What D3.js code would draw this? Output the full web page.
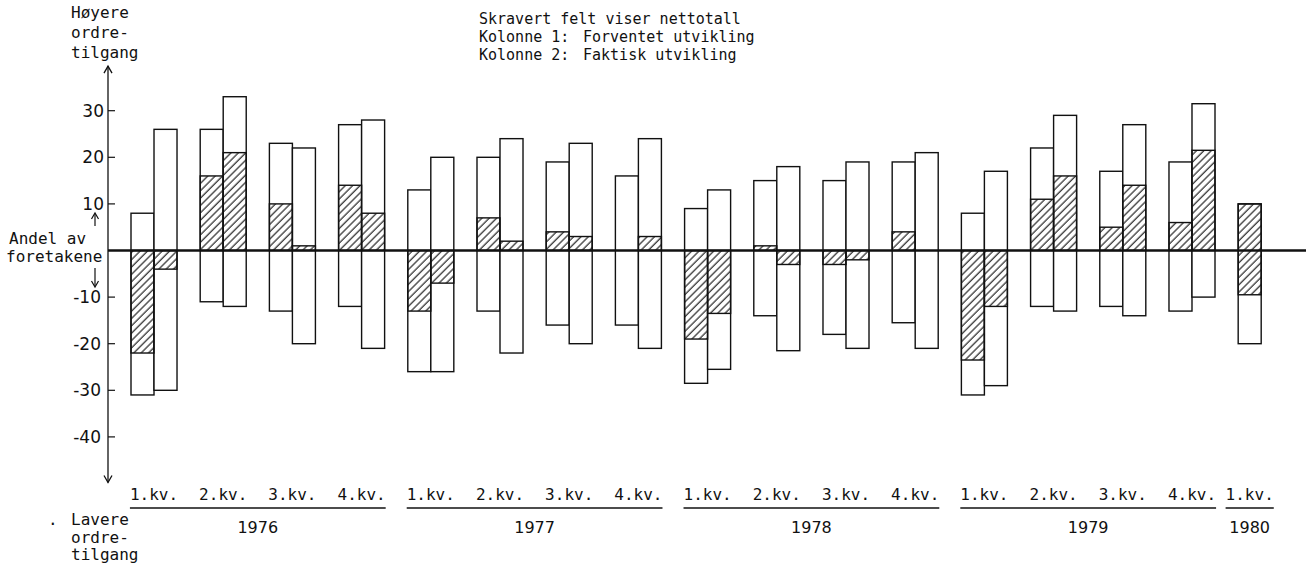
<!DOCTYPE html>
<html>
<head>
<meta charset="utf-8">
<script src="https://cdn.jsdelivr.net/npm/d3@7"></script>
<style>
    body { margin: 0; background: #fff; }
    svg { display: block; }
    .mono { font-family: 'DejaVu Sans Mono', monospace; fill: #111; }
    .num { font-family: 'DejaVu Sans', sans-serif; fill: #111; }
</style>
</head>
<body>
<div class="chart"></div>
<script>
const width = 1306,
      height = 566;

// kategorier
const years = ['1976', '1977', '1978', '1979', '1980'];
const kvartal = ['1.kv.', '2.kv.', '3.kv.', '4.kv.'];
const perioder = years.flatMap(function(y) {
    return y === '1980' ? [y + '-1'] : [1, 2, 3, 4].map(function(k) { return y + '-' + k; });
});

// Kolonne 1: Forventet utvikling (andel høyere, andel lavere, nettotall)
const forventetOpp   = [8, 26, 23, 27, 13, 20, 19, 16, 9, 15, 15, 19, 8, 22, 17, 19, 10];
const forventetNed   = [-31, -11, -13, -12, -26, -13, -16, -16, -28.5, -14, -18, -15.5, -31, -12, -12, -13, -20];
const forventetNetto = [-22, 16, 10, 14, -13, 7, 4, 0, -19, 1, -3, 4, -23.5, 11, 5, 6, -9.5];
// skravert felt over null (bare 1980)
const forventetSkravertTopp = [0, 0, 0, 0, 0, 0, 0, 0, 0, 0, 0, 0, 0, 0, 0, 0, 10];

// Kolonne 2: Faktisk utvikling
const faktiskOpp   = [26, 33, 22, 28, 20, 24, 23, 24, 13, 18, 19, 21, 17, 29, 27, 31.5, null];
const faktiskNed   = [-30, -12, -20, -21, -26, -22, -20, -21, -25.5, -21.5, -21, -21, -29, -13, -14, -10, null];
const faktiskNetto = [-4, 21, 1, 8, -7, 2, 3, 3, -13.5, -3, -2, 0, -12, 16, 14, 21.5, null];

const yTicks = [-40, -30, -20, -10, 10, 20, 30];

const svg = d3.select('.chart').append('svg')
    .attr('width', width)
    .attr('height', height);

const defs = svg.append('defs');
defs.append('pattern')
    .attr('id', 'hatch')
    .attr('patternUnits', 'userSpaceOnUse')
    .attr('width', 5.2)
    .attr('height', 5.2)
    .attr('patternTransform', 'rotate(45)')
    .append('line')
    .attr('x1', 1).attr('y1', 0)
    .attr('x2', 1).attr('y2', 5.2)
    .attr('stroke', '#111')
    .attr('stroke-width', 1.1);

const x = d3.scaleBand()
    .domain(perioder)
    .range([131, 1284.2])
    .paddingInner(0.335)
    .paddingOuter(0);

const xInner = d3.scaleBand()
    .domain(['forventet', 'faktisk'])
    .range([0, x.bandwidth()]);

const y = d3.scaleLinear()
    .domain([-50, 40])
    .range([483.5, 64.1]);

// build bar records
let bars = [];
perioder.forEach(function(p, i) {
    bars.push({ periode: p, kol: 'forventet', opp: forventetOpp[i], ned: forventetNed[i],
        netto: forventetNetto[i], topp: forventetSkravertTopp[i] });
    if (faktiskOpp[i] !== null) {
        bars.push({ periode: p, kol: 'faktisk', opp: faktiskOpp[i], ned: faktiskNed[i],
            netto: faktiskNetto[i], topp: 0 });
    }
});

const gBars = svg.append('g');

gBars.selectAll('rect.bar')
    .data(bars)
    .enter()
    .append('rect')
    .attr('class', 'bar')
    .attr('x', function(d) { return x(d.periode) + xInner(d.kol); })
    .attr('width', xInner.bandwidth())
    .attr('y', function(d) { return y(d.opp); })
    .attr('height', function(d) { return y(d.ned) - y(d.opp); })
    .attr('fill', '#fff')
    .attr('stroke', '#111')
    .attr('stroke-width', 1.4);

gBars.selectAll('rect.netto')
    .data(bars.filter(function(d) { return d.netto !== 0; }))
    .enter()
    .append('rect')
    .attr('class', 'netto')
    .attr('x', function(d) { return x(d.periode) + xInner(d.kol); })
    .attr('width', xInner.bandwidth())
    .attr('y', function(d) { return y(Math.max(0, d.netto, d.topp)); })
    .attr('height', function(d) {
        return y(Math.min(0, d.netto)) - y(Math.max(0, d.netto, d.topp));
    })
    .attr('fill', 'url(#hatch)')
    .attr('stroke', '#111')
    .attr('stroke-width', 1.4);

// nullinje
svg.append('line')
    .attr('x1', 108).attr('x2', width)
    .attr('y1', y(0)).attr('y2', y(0))
    .attr('stroke', '#111')
    .attr('stroke-width', 2.6);

// y-akse med piler i begge ender
const axisX = 108;
svg.append('line')
    .attr('x1', axisX).attr('x2', axisX)
    .attr('y1', y(40) + 2).attr('y2', y(-50) - 1)
    .attr('stroke', '#111')
    .attr('stroke-width', 1.3);

svg.append('path')
    .attr('d', 'M' + (axisX - 4) + ',' + (y(40) + 9) + 'L' + axisX + ',' + (y(40) + 2) + 'L' + (axisX + 4) + ',' + (y(40) + 9))
    .attr('fill', 'none').attr('stroke', '#111').attr('stroke-width', 1.3);
svg.append('path')
    .attr('d', 'M' + (axisX - 4) + ',' + (y(-50) - 8) + 'L' + axisX + ',' + (y(-50) - 1) + 'L' + (axisX + 4) + ',' + (y(-50) - 8))
    .attr('fill', 'none').attr('stroke', '#111').attr('stroke-width', 1.3);

const gTicks = svg.append('g');
gTicks.selectAll('line')
    .data(yTicks)
    .enter()
    .append('line')
    .attr('x1', axisX).attr('x2', axisX + 7)
    .attr('y1', function(d) { return y(d); })
    .attr('y2', function(d) { return y(d); })
    .attr('stroke', '#111')
    .attr('stroke-width', 1.2);

gTicks.selectAll('text')
    .data(yTicks)
    .enter()
    .append('text')
    .attr('class', 'num')
    .attr('x', function(d) { return d > 0 ? 104 : 101; })
    .attr('y', function(d) { return y(d) + 6; })
    .attr('text-anchor', 'end')
    .attr('font-size', 17)
    .text(function(d) { return d; });

// små piler ved "Andel av foretakene"
svg.append('line').attr('x1', 95).attr('x2', 95).attr('y1', 214).attr('y2', 226)
    .attr('stroke', '#111').attr('stroke-width', 1.2);
svg.append('path').attr('d', 'M91.5,219L95,213L98.5,219')
    .attr('fill', 'none').attr('stroke', '#111').attr('stroke-width', 1.2);
svg.append('line').attr('x1', 95).attr('x2', 95).attr('y1', 268).attr('y2', 286)
    .attr('stroke', '#111').attr('stroke-width', 1.2);
svg.append('path').attr('d', 'M91.5,281L95,287L98.5,281')
    .attr('fill', 'none').attr('stroke', '#111').attr('stroke-width', 1.2);

function tekst(str, tx, ty, size) {
    return svg.append('text')
        .attr('class', 'mono')
        .attr('x', tx)
        .attr('y', ty)
        .attr('font-size', size)
        .attr('xml:space', 'preserve')
        .style('white-space', 'pre')
        .text(str);
}

tekst('Høyere', 71, 18, 16);
tekst('ordre-', 71, 38, 16);
tekst('tilgang', 71, 58, 16);

tekst('Andel av', 9, 244, 16);
tekst('foretakene', 6, 262, 16);

tekst('.', 48, 525, 16);
tekst('Lavere', 71, 525, 16);
tekst('ordre-', 71, 543, 16);
tekst('tilgang', 71, 560, 16);

tekst('Skravert felt viser nettotall', 479, 24, 15);
tekst('Kolonne 1:', 479, 42, 15);
tekst('Forventet utvikling', 583, 42, 15);
tekst('Kolonne 2:', 479, 60, 15);
tekst('Faktisk utvikling', 583, 60, 15);

// kvartal- og årstall
const gX = svg.append('g');
const kvLabels = gX.selectAll('text.kv')
    .data(perioder)
    .enter()
    .append('text')
    .attr('class', 'mono kv')
    .attr('x', function(p, i) {
        return faktiskOpp[i] === null ? x(p) + xInner.bandwidth() / 2 : x(p) + x.bandwidth() / 2;
    })
    .attr('y', 500)
    .attr('text-anchor', 'middle')
    .attr('font-size', 16)
    .text(function(p) { return kvartal[+p.split('-')[1] - 1]; });

years.forEach(function(yr) {
    const nodes = kvLabels.filter(function(p) { return p.split('-')[0] === yr; }).nodes();
    const b0 = nodes[0].getBBox(),
          b1 = nodes[nodes.length - 1].getBBox();
    const x0 = b0.x,
          x1 = b1.x + b1.width;

    gX.append('line')
        .attr('x1', x0).attr('x2', x1)
        .attr('y1', 508).attr('y2', 508)
        .attr('stroke', '#111')
        .attr('stroke-width', 1.6);

    gX.append('text')
        .attr('class', 'num')
        .attr('x', (x0 + x1) / 2)
        .attr('y', 533)
        .attr('text-anchor', 'middle')
        .attr('font-size', 16)
        .text(yr);
});
</script>
</body>
</html>
